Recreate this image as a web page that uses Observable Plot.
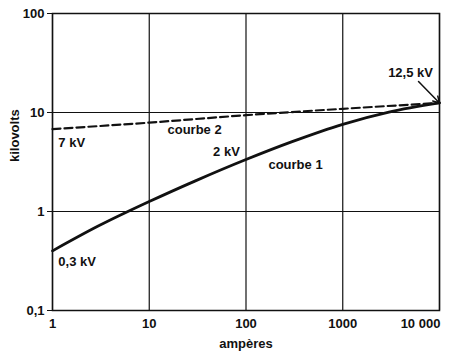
<!DOCTYPE html>
<html><head><meta charset="utf-8">
<script src="https://cdn.jsdelivr.net/npm/d3@7"></script>
<script src="https://cdn.jsdelivr.net/npm/@observablehq/plot@0.6"></script>
<style>body{margin:0;background:#fff}</style>
</head><body><div id="chart"></div>
<script>
const amperes = [1, 3, 10, 30, 100, 300, 1000, 3000, 10000];
const courbe1 = [0.4, 0.716, 1.26, 2.04, 3.35, 5.08, 7.6, 10.1, 12.5];
const amperes2 = [1, 10, 100, 1000, 10000];
const courbe2 = [6.8, 7.9, 9.4, 10.9, 12.5];
const xTicks = [1, 10, 100, 1000];
const xTickLabels = ["1", "10", "100", "1000"];
const xLastTick = [10000];
const xLastLabel = ["10 000"];
const yTicks = [0.1, 1, 10, 100];
const yTickLabels = ["0,1", "1", "10", "100"];
const labelsStart = [
  {x: 1.15, y: 4.95, text: "7 kV"},
  {x: 1.15, y: 0.313, text: "0,3 kV"}
];
const labelsMiddle = [
  {x: 29.4, y: 6.73, text: "courbe 2"},
  {x: 62.8, y: 4.04, text: "2 kV"},
  {x: 325, y: 2.98, text: "courbe 1"},
  {x: 5020, y: 25.4, text: "12,5 kV"}
];
const arrowData = [{x1: 6070, y1: 20.6, x2: 10000, y2: 12.5}];

const d1 = amperes.map((a, i) => ({a, v: courbe1[i]}));
const d2 = amperes2.map((a, i) => ({a, v: courbe2[i]}));
const xFmt = new Map(xTicks.map((t, i) => [t, xTickLabels[i]]));
const xLastFmt = new Map(xLastTick.map((t, i) => [t, xLastLabel[i]]));
const yFmt = new Map(yTicks.map((t, i) => [t, yTickLabels[i]]));

const chart = Plot.plot({
  width: 451, height: 360,
  marginLeft: 52, marginRight: 12, marginTop: 13, marginBottom: 50,
  style: {fontFamily: "'Liberation Sans', Arial, sans-serif", fontSize: "13px", fontWeight: "bold", color: "#111", background: "#fff"},
  x: {type: "log", domain: [1, 10000]},
  y: {type: "log", domain: [0.1, 100]},
  marks: [
    Plot.gridX(xTicks.concat(xLastTick), {stroke: "#111", strokeOpacity: 1, strokeWidth: 1.2}),
    Plot.gridY(yTicks, {stroke: "#111", strokeOpacity: 1, strokeWidth: 1.2}),
    Plot.frame({stroke: "#111", strokeWidth: 1.5}),
    Plot.axisX(xTicks, {tickSize: 0, tickPadding: 8, tickFormat: d => xFmt.get(d), label: null, fontSize: 13, fill: "#111"}),
    Plot.axisX(xLastTick, {tickSize: 0, tickPadding: 8, dx: -19, tickFormat: d => xLastFmt.get(d), label: null, fontSize: 13, fill: "#111"}),
    Plot.axisY(yTicks, {tickSize: 5, tickPadding: 3, tickFormat: d => yFmt.get(d), label: null, fontSize: 13, fill: "#111"}),
    Plot.text(["ampères"], {frameAnchor: "bottom", dy: 37, fontSize: 13, fill: "#111"}),
    Plot.text(["kilovolts"], {frameAnchor: "left", dx: -38, rotate: -90, fontSize: 13, fill: "#111"}),
    Plot.line(d2, {x: "a", y: "v", stroke: "#111", strokeWidth: 2.2, strokeDasharray: "8,4", curve: "monotone-x"}),
    Plot.line(d1, {x: "a", y: "v", stroke: "#111", strokeWidth: 2.8, curve: "monotone-x"}),
    Plot.arrow(arrowData, {x1: "x1", y1: "y1", x2: "x2", y2: "y2", stroke: "#111", strokeWidth: 1.5, headLength: 7}),
    Plot.text(labelsStart, {x: "x", y: "y", text: "text", textAnchor: "start", fontSize: 13, fill: "#111"}),
    Plot.text(labelsMiddle, {x: "x", y: "y", text: "text", textAnchor: "middle", fontSize: 13, fill: "#111"})
  ]
});
document.getElementById("chart").appendChild(chart);
</script>
</body></html>
